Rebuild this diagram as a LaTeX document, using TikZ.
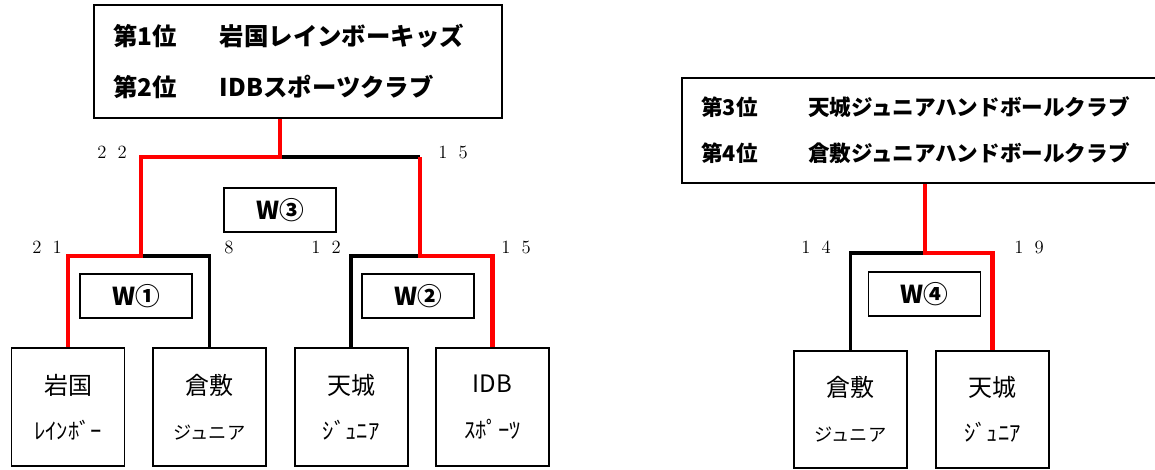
\documentclass[tikz,border=0pt]{standalone}
\usepackage{fontspec}
\newfontfamily\jp{Noto Sans CJK JP}
\usetikzlibrary{positioning}

\newcommand{\hw}{\fontsize{17pt}{34pt}\selectfont}
\newcommand{\fw}{\fontsize{13.7pt}{34pt}\selectfont}
\newcommand{\sco}[2]{#1\hspace{0.6em}#2}
\newcommand{\place}[1]{\makebox[80pt][l]{#1}}

\tikzset{
  win/.style={red, line width=3.5pt},
  lose/.style={black, line width=2.6pt},
  team/.style={draw, line width=1.4pt, minimum width=84.75pt, minimum height=88pt,
    inner sep=0pt, align=center, font=\jp\fontsize{18pt}{34pt}\selectfont},
  wbox/.style={draw, line width=1.2pt, minimum width=84pt, minimum height=33pt,
    inner sep=0pt, font=\jp\bfseries\fontsize{18.5pt}{20pt}\selectfont},
  rank/.style 2 args={draw, line width=1.5pt, align=left, inner xsep=14.5pt, inner ysep=0pt,
    font=\jp\bfseries\fontsize{#1}{#2}\selectfont},
  score/.style={font=\fontsize{14pt}{14pt}\selectfont},
}

\begin{document}
\begin{tikzpicture}[x=0.75pt, y=-0.75pt]
  \useasboundingbox (0,0) rectangle (1155,469);

  % result boxes
  \node[rank={18.3pt}{38pt}, text width=277pt, minimum height=84.75pt] (r12) at (298,61.5)
    {\place{第1位}岩国レインボーキッズ\\\place{第2位}IDBスポーツクラブ};
  \node[rank={16.2pt}{34.5pt}, text width=331pt, minimum height=78.75pt] (r34) at (922,130.5)
    {\place{第3位}天城ジュニアハンドボールクラブ\\\place{第4位}倉敷ジュニアハンドボールクラブ};

  % teams
  \node[team] (iwakuni) at (68,407) {岩国\\\hw ﾚｲﾝﾎﾞｰ};
  \node[team, right=20pt of iwakuni] (kurashiki) {倉敷\\\fw ジュニア};
  \node[team, right=20pt of kurashiki] (amagi) {天城\\\hw ｼﾞｭﾆｱ};
  \node[team, right=20pt of amagi] (idb) {IDB\\\hw ｽﾎﾟｰﾂ};
  \node[team] (kurashiki2) at (850.5,409.5) {倉敷\\\fw ジュニア};
  \node[team, right=20.25pt of kurashiki2] (amagi2) {天城\\\hw ｼﾞｭﾆｱ};

  % match labels
  \node[wbox] (w1) at (136,296) {W①};
  \node[wbox] (w2) at (418,296) {W②};
  \node[wbox] (w3) at (280,210) {W③};
  \node[wbox] (w4) at (924.5,294) {W④};

  % joints
  \coordinate (j1) at (141,256);
  \coordinate (j2) at (420,256);
  \coordinate (f) at (280,157);
  \coordinate (f2) at (j2 |- f);
  \coordinate (j4) at (925,253);

  % losers
  \draw[lose] (kurashiki.north) |- (j1);
  \draw[lose] (amagi.north) |- (j2);
  \draw[lose] (f2) -- (f);
  \draw[lose] (kurashiki2.north) |- (j4);

  % winners
  \draw[win] (iwakuni.north) |- (j1) |- (f) -- (f |- r12.south);
  \draw[win] (idb.north) |- (j2) -- (f2);
  \draw[win] (amagi2.north) |- (j4) -- (j4 |- r34.south);

  % scores
  \node[score] (s22) at (112,152) {\sco22};
  \node[score] (s15a) at (453,152) {\sco15};
  \node[score] (s21) at (47,247) {\sco21};
  \node[score] (s8) at (229,247) {8};
  \node[score] (s12) at (326,247) {\sco12};
  \node[score] (s15b) at (516,247) {\sco15};
  \node[score] (s14) at (816,247) {\sco14};
  \node[score] (s19) at (1029,247) {\sco19};
\end{tikzpicture}
\end{document}
